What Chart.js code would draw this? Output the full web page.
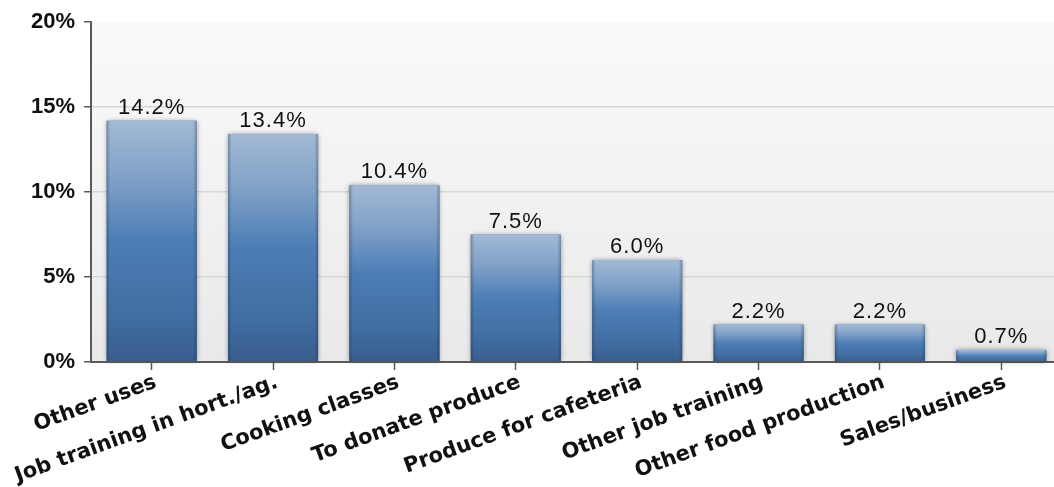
<!DOCTYPE html>
<html>
<head>
<meta charset="utf-8">
<script src="https://cdn.jsdelivr.net/npm/chart.js@4"></script>
<style>
  html, body { margin: 0; padding: 0; background: #fff; overflow: hidden; }
  #wrap { width: 1062px; height: 487px; }
</style>
</head>
<body>
<div id="wrap"><canvas id="myChart"></canvas></div>
<script>
const categories = [
  "Other uses",
  "Job training in hort./ag.",
  "Cooking classes",
  "To donate produce",
  "Produce for cafeteria",
  "Other job training",
  "Other food production",
  "Sales/business",
];
const shares = [14.2, 13.4, 10.4, 7.5, 6.0, 2.2, 2.2, 0.7];
const yTicks = [0, 5, 10, 15, 20];

// light grey panel behind the bars
const panelBg = {
  id: "panelBg",
  beforeDraw(chart) {
    const { ctx, chartArea } = chart;
    const g = ctx.createLinearGradient(0, chartArea.top, 0, chartArea.bottom);
    g.addColorStop(0, "#fafafa");
    g.addColorStop(1, "#e9e9e9");
    ctx.save();
    ctx.fillStyle = g;
    ctx.fillRect(chartArea.left, chartArea.top, chartArea.right - chartArea.left, chartArea.bottom - chartArea.top);
    ctx.restore();
  },
};

// soft shadow under each bar, then darker side edges and value text on top
const barDecor = {
  id: "barDecor",
  beforeDatasetsDraw(chart) {
    const { ctx } = chart;
    const meta = chart.getDatasetMeta(0);
    ctx.save();
    ctx.shadowColor = "rgba(0,0,0,0.45)";
    ctx.shadowBlur = 5;
    ctx.fillStyle = "#6f7d8c";
    meta.data.forEach((bar) => {
      const half = bar.width / 2;
      ctx.fillRect(bar.x - half, bar.y, bar.width, bar.base - bar.y);
    });
    ctx.restore();
  },
  afterDatasetsDraw(chart) {
    const { ctx } = chart;
    const meta = chart.getDatasetMeta(0);
    ctx.save();
    meta.data.forEach((bar, i) => {
      const half = bar.width / 2;
      const left = bar.x - half;
      const edge = ctx.createLinearGradient(left, 0, left + bar.width, 0);
      edge.addColorStop(0, "rgba(20,40,70,0.35)");
      edge.addColorStop(0.04, "rgba(20,40,70,0.05)");
      edge.addColorStop(0.96, "rgba(20,40,70,0.05)");
      edge.addColorStop(1, "rgba(20,40,70,0.35)");
      ctx.fillStyle = edge;
      ctx.fillRect(left, bar.y, bar.width, bar.base - bar.y);

      ctx.fillStyle = "#111";
      ctx.font = "22px 'Liberation Sans', Arial, sans-serif";
      ctx.letterSpacing = "1px";
      ctx.textAlign = "center";
      ctx.textBaseline = "bottom";
      ctx.fillText(shares[i].toFixed(1) + "%", bar.x, bar.y - 2);
    });
    ctx.restore();
  },
};

function barFill(context) {
  const chart = context.chart;
  if (!chart.chartArea) return "#4a7ab0";
  const y = chart.scales.y;
  const top = y.getPixelForValue(shares[context.dataIndex]);
  const bottom = y.getPixelForValue(0);
  const g = chart.ctx.createLinearGradient(0, top, 0, bottom);
  g.addColorStop(0, "#aac1dc");
  g.addColorStop(0.25, "#84a6cd");
  g.addColorStop(0.5, "#4f82bb");
  g.addColorStop(0.8, "#4472a7");
  g.addColorStop(1, "#3a6091");
  return g;
}

const ctx = document.getElementById("myChart").getContext("2d");
const myChart = new Chart(ctx, {
  type: "bar",
  data: {
    labels: categories,
    datasets: [
      {
        data: shares,
        backgroundColor: barFill,
        borderWidth: 0,
        barPercentage: 0.742,
        categoryPercentage: 1,
      },
    ],
  },
  options: {
    responsive: true,
    maintainAspectRatio: false,
    animation: false,
    events: [],
    layout: { padding: { top: 12, left: 0, right: 0, bottom: 0 } },
    plugins: {
      legend: { display: false },
      tooltip: { enabled: false },
    },
    scales: {
      x: {
        afterFit: (scale) => {
          scale.height = 125;
        },
        grid: {
          offset: false,
          drawOnChartArea: false,
          drawTicks: true,
          tickLength: 8,
          tickColor: "#5a5a5a",
          tickWidth: 1.5,
        },
        border: { color: "#5a5a5a", width: 2 },
        ticks: {
          autoSkip: false,
          minRotation: 20,
          maxRotation: 20,
          padding: 0,
          labelOffset: 4,
          color: "#111",
          font: { family: "'DejaVu Sans', Verdana, sans-serif", size: 21, weight: "bold" },
        },
      },
      y: {
        min: yTicks[0],
        max: yTicks[yTicks.length - 1],
        afterFit: (scale) => {
          scale.width = 91;
        },
        afterBuildTicks: (scale) => {
          scale.ticks = yTicks.map((v) => ({ value: v }));
        },
        grid: {
          color: (c) => (c.tick && c.tick.value === 20 ? "rgba(0,0,0,0)" : "#d6d6d6"),
          lineWidth: 1.5,
          tickLength: 7,
          tickColor: "#5a5a5a",
          tickWidth: 1.5,
        },
        border: { color: "#5a5a5a", width: 2 },
        ticks: {
          padding: 9,
          color: "#111",
          font: { family: "'Liberation Sans', Arial, sans-serif", size: 22, weight: "bold" },
          callback: (v) => v + "%",
        },
      },
    },
  },
  plugins: [panelBg, barDecor],
});
</script>
</body>
</html>
